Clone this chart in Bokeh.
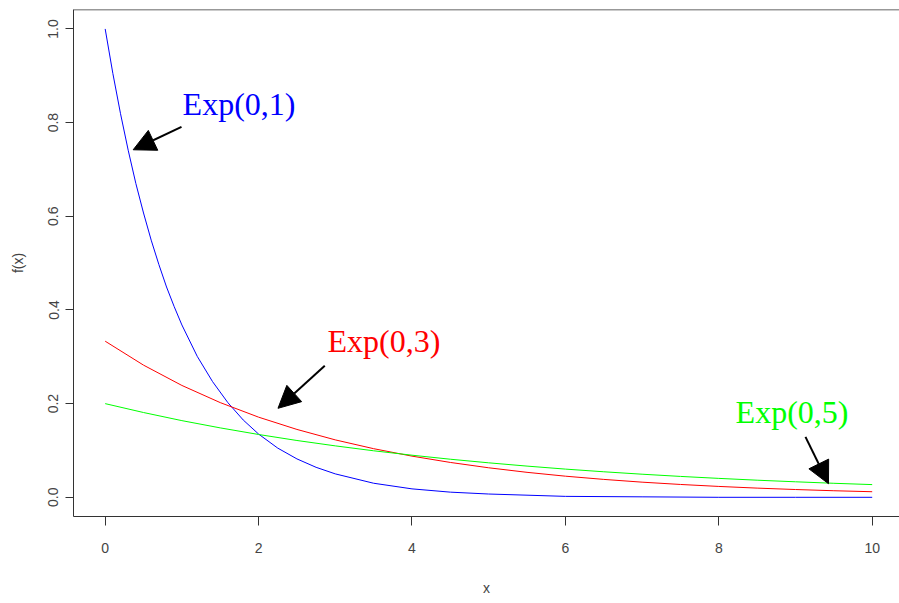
from bokeh.plotting import figure
from bokeh.models import Range1d, FixedTicker, Arrow, NormalHead, Label, Span
from bokeh.embed import file_html
from bokeh.resources import INLINE

# Values
x_blue = [0, 0.1, 0.2, 0.3, 0.4, 0.5, 0.6, 0.7, 0.8, 0.9, 1.0, 1.2, 1.4, 1.6, 1.8, 2.0,
          2.25, 2.5, 2.75, 3.0, 3.5, 4.0, 4.5, 5.0, 6.0, 7.0, 8.0, 9.0, 10.0]
y_blue = [1.000, 0.905, 0.819, 0.741, 0.670, 0.607, 0.549, 0.497, 0.449, 0.407, 0.368,
          0.301, 0.247, 0.202, 0.165, 0.135, 0.105, 0.082, 0.064, 0.050, 0.030, 0.018,
          0.011, 0.007, 0.002, 0.001, 0.000, 0.000, 0.000]

x_grid = [0, 0.5, 1, 1.5, 2, 2.5, 3, 3.5, 4, 4.5, 5, 5.5, 6, 6.5, 7, 7.5, 8, 8.5, 9, 9.5, 10]
y_red = [0.3333, 0.2822, 0.2388, 0.2022, 0.1711, 0.1449, 0.1226, 0.1038, 0.0879, 0.0744,
         0.0630, 0.0533, 0.0451, 0.0382, 0.0323, 0.0274, 0.0232, 0.0196, 0.0166, 0.0140, 0.0119]
y_green = [0.2000, 0.1810, 0.1637, 0.1482, 0.1341, 0.1213, 0.1098, 0.0993, 0.0899, 0.0813,
           0.0736, 0.0666, 0.0602, 0.0545, 0.0493, 0.0446, 0.0404, 0.0365, 0.0331, 0.0299, 0.0271]

x_ticks = [0, 2, 4, 6, 8, 10]
y_ticks = [0.0, 0.2, 0.4, 0.6, 0.8, 1.0]
y_tick_labels = ["0.0", "0.2", "0.4", "0.6", "0.8", "1.0"]

labels = ["Exp(0,1)", "Exp(0,3)", "Exp(0,5)"]
label_x = [1.745, 3.635, 8.955]
label_y = [0.839, 0.333, 0.182]
label_colors = ["#0000FF", "#FF0000", "#00FF00"]

arrow_x0 = [0.995, 2.863, 9.13]
arrow_y0 = [0.791, 0.281, 0.129]
arrow_x1 = [0.365, 2.253, 9.43]
arrow_y1 = [0.742, 0.190, 0.029]

p = figure(width=899, height=598, output_backend="svg", toolbar_location=None,
           x_range=Range1d(-0.413, 10.356), y_range=Range1d(-0.041, 1.0415),
           min_border_left=73, min_border_top=9, min_border_right=0, min_border_bottom=80)
p.outline_line_color = None
p.border_fill_color = "white"
p.xgrid.visible = False
p.ygrid.visible = False
p.background_fill_color = "white"

axis_col = "#333333"
for ax in (p.xaxis[0], p.yaxis[0]):
    ax.axis_line_color = axis_col
    ax.major_tick_line_color = axis_col
    ax.minor_tick_line_color = None
    ax.major_tick_in = 0
    ax.major_label_text_font = "Liberation Sans"
    ax.major_label_text_font_size = "14px"
    ax.major_label_text_color = "#444444"
    ax.axis_label_text_font = "Liberation Sans"
    ax.axis_label_text_font_size = "14px"
    ax.axis_label_text_font_style = "normal"
    ax.axis_label_text_color = "#444444"

p.xaxis.ticker = FixedTicker(ticks=x_ticks)
p.xaxis.major_tick_out = 9
p.xaxis.major_label_standoff = 17
p.xaxis.axis_label = "x"
p.xaxis.axis_label_standoff = 24

p.yaxis.ticker = FixedTicker(ticks=y_ticks)
p.yaxis.major_label_overrides = {t: s for t, s in zip(y_ticks, y_tick_labels)}
p.yaxis.major_tick_out = 8
p.yaxis.major_label_orientation = "vertical"
p.yaxis.major_label_standoff = 7
p.yaxis.axis_label = "f(x)"
p.yaxis.axis_label_standoff = 20

# top border of the box
p.add_layout(Span(location=1.0415, dimension="width", line_color=axis_col, line_width=1.5))

p.line(x_blue, y_blue, line_color="#0000FF", line_width=1)
p.line(x_grid, y_red, line_color="#FF0000", line_width=1)
p.line(x_grid, y_green, line_color="#00FF00", line_width=1)

for i in range(3):
    p.add_layout(Arrow(end=NormalHead(size=22, fill_color="black", line_color="black"),
                       x_start=arrow_x0[i], y_start=arrow_y0[i],
                       x_end=arrow_x1[i], y_end=arrow_y1[i],
                       line_color="black", line_width=2))
    p.add_layout(Label(x=label_x[i], y=label_y[i], text=labels[i],
                       text_font="Liberation Serif", text_font_size="32px",
                       text_color=label_colors[i], text_align="center",
                       text_baseline="middle"))

open("out.html", "w").write(file_html(p, INLINE))
